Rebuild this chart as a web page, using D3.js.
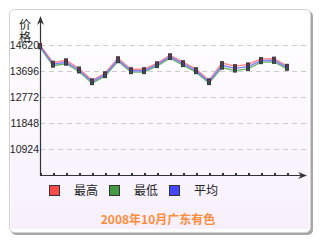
<!DOCTYPE html>
<html><head><meta charset="utf-8">
<script src="https://cdn.jsdelivr.net/npm/d3@7"></script>
<style>
html,body{margin:0;padding:0;background:#fff;}
svg{display:block;}
</style></head>
<body>
<script>
const categories = ["1","2","3","4","5","6","7","8","9","10","11","12","13","14","15","16","17","18","19","20"];
const highValues = [14620,13990,14075,13785,13365,13615,14150,13760,13760,13970,14255,14010,13760,13365,13975,13870,13930,14120,14135,13880];
const avgValues  = [14580,13934,14005,13732,13316,13565,14098,13707,13707,13920,14205,13956,13707,13316,13897,13790,13850,14063,14076,13826];
const lowValues  = [14540,13885,13955,13680,13265,13515,14045,13655,13655,13870,14155,13905,13655,13265,13815,13710,13770,14010,14020,13775];
const yTicks = [10924,11848,12772,13696,14620];
const seriesNames = ["最高","最低","平均"];
const title = "2008年10月广东有色";
const yTitle = "价格";

const W = 320, H = 243;
const svg = d3.select("body").append("svg").attr("width", W).attr("height", H);
const defs = svg.append("defs");
const grad = defs.append("linearGradient").attr("id","bg").attr("x1",0).attr("y1",0).attr("x2",0).attr("y2",1);
grad.append("stop").attr("offset","0%").attr("stop-color","#ffffff");
grad.append("stop").attr("offset","100%").attr("stop-color","#f7f0fc");

// panel with shadow
svg.append("rect").attr("x",11).attr("y",11).attr("width",302).attr("height",224).attr("rx",5).attr("fill","#a8a8a8");
svg.append("rect").attr("x",9.5).attr("y",9.5).attr("width",301).attr("height",223).attr("rx",5).attr("fill","#fff").attr("stroke","#d0d0d0");
svg.append("rect").attr("x",11).attr("y",11).attr("width",298).attr("height",218).attr("fill","url(#bg)");

const x = d3.scaleLinear().domain([0, categories.length-1]).range([40, 287]);
const y = d3.scaleLinear().domain([10000, 14620]).range([175, 45]);

// gridlines
svg.append("g").selectAll("line").data(yTicks).join("line")
  .attr("x1",40).attr("x2",309).attr("y1",d=>Math.round(y(d))+0.5).attr("y2",d=>Math.round(y(d))+0.5)
  .attr("stroke","#cccccc").attr("stroke-dasharray","5,4");

// y axis labels
const yAxis = d3.axisLeft(y).tickValues(yTicks).tickSize(0).tickPadding(1).tickFormat(d3.format("d"));
const gy = svg.append("g").attr("transform","translate(40,0)").call(yAxis);
gy.select(".domain").remove();
gy.selectAll("text").attr("font-family","Liberation Sans, sans-serif").attr("font-size",10.5).attr("fill","#222");

// axis lines
svg.append("line").attr("x1",40.5).attr("x2",40.5).attr("y1",22).attr("y2",175.5).attr("stroke","#333").attr("stroke-width",1.2);
svg.append("path").attr("d","M40.5,16 L37,25 L40.5,22 L44,25 Z").attr("fill","#333");
svg.append("line").attr("x1",40).attr("x2",301).attr("y1",175.5).attr("y2",175.5).attr("stroke","#333").attr("stroke-width",1.2);
svg.append("path").attr("d","M307,175.5 L298,172 L301,175.5 L298,179 Z").attr("fill","#333");

// x ticks
const xAxis = d3.axisBottom(x).tickValues(d3.range(categories.length)).tickSize(0).tickFormat("");
const gx = svg.append("g").attr("transform","translate(0,175)").call(xAxis);
gx.select(".domain").remove();
svg.append("g").selectAll("rect").data(d3.range(categories.length)).join("rect")
  .attr("x",d=>Math.round(x(d))).attr("y",173).attr("width",2).attr("height",3).attr("fill","#333");

// y title (vertical)
svg.append("text").attr("x",25).attr("y",18)
  .style("writing-mode","vertical-rl").style("letter-spacing","1px")
  .attr("font-family","Noto Sans CJK SC").attr("font-size",12).attr("fill","#222").text(yTitle);

const series = [
  {name:seriesNames[0], values:highValues, line:"#ff7a7a", dot:"#ff3333", fill:"#ff4a4a"},
  {name:seriesNames[1], values:lowValues, line:"#5aae5a", dot:"#33aa33", fill:"#449944"},
  {name:seriesNames[2], values:avgValues, line:"#7373ff", dot:"#4444ff", fill:"#4646ff"}
];
const line = d3.line().x((d,i)=>x(i)).y(d=>y(d));
series.forEach(s=>{
  svg.append("path").datum(s.values).attr("d",line).attr("fill","none").attr("stroke",s.line).attr("stroke-width",1.4).attr("opacity",0.9);
});
series.forEach(s=>{
  svg.append("g").selectAll("rect").data(s.values).join("rect")
    .attr("x",(d,i)=>x(i)-2).attr("y",d=>y(d)-2).attr("width",4).attr("height",4).attr("fill","#3a3a44");
});
series.forEach(s=>{
  svg.append("g").selectAll("rect").data(s.values).join("rect")
    .attr("x",(d,i)=>x(i)-0.5).attr("y",d=>y(d)-0.5).attr("width",1).attr("height",1).attr("fill",s.dot);
});

// legend
const legX = [49, 109, 169];
series.forEach((s,i)=>{
  svg.append("rect").attr("x",legX[i]+0.5).attr("y",185.5).attr("width",10).attr("height",10).attr("fill",s.fill).attr("stroke","#333");
  svg.append("text").attr("x",legX[i]+25).attr("y",195).attr("font-family","Noto Sans CJK SC").attr("font-size",12).attr("fill","#222").text(s.name);
});

// title
svg.append("text").attr("x",158).attr("y",224).attr("text-anchor","middle").attr("font-family","Noto Sans CJK SC").attr("font-weight","bold").attr("font-size",12).attr("fill","#ff8c3a").text(title);
</script>
</body></html>
